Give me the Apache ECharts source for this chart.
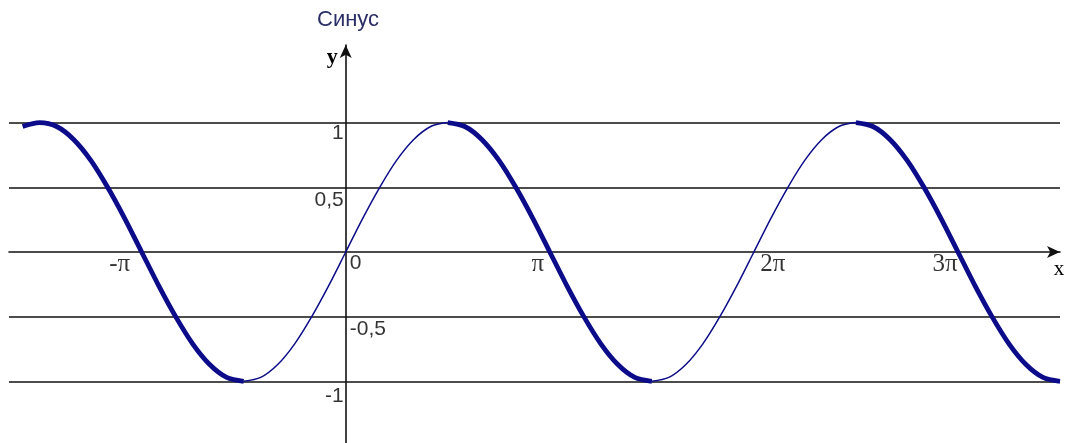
<!DOCTYPE html>
<html>
<head>
<meta charset="utf-8">
<title>Синус</title>
<script src="https://cdn.jsdelivr.net/npm/echarts@6/dist/echarts.min.js"></script>
<style>
  html, body { margin: 0; padding: 0; background: #ffffff; }
  #chart { width: 1072px; height: 443px; }
</style>
</head>
<body>
<div id="chart"></div>
<script>
// Angle in degrees (180 = π) and the sine value at each sample
const angleDeg = [
  -285, -270, -255, -240, -225, -210, -195, -180, -165, -150, -135, -120, -105, -90,
  -75, -60, -45, -30, -15, 0, 15, 30, 45, 60, 75, 90,
  105, 120, 135, 150, 165, 180, 195, 210, 225, 240, 255, 270,
  285, 300, 315, 330, 345, 360, 375, 390, 405, 420, 435, 450,
  465, 480, 495, 510, 525, 540, 555, 570, 585, 600, 615, 630
];
const sineVal = [
  0.97, 1, 0.97, 0.87, 0.71, 0.5, 0.26, 0, -0.26, -0.5, -0.71, -0.87, -0.97, -1,
  -0.97, -0.87, -0.71, -0.5, -0.26, 0, 0.26, 0.5, 0.71, 0.87, 0.97, 1,
  0.97, 0.87, 0.71, 0.5, 0.26, 0, -0.26, -0.5, -0.71, -0.87, -0.97, -1,
  -0.97, -0.87, -0.71, -0.5, -0.26, 0, 0.26, 0.5, 0.71, 0.87, 0.97, 1,
  0.97, 0.87, 0.71, 0.5, 0.26, 0, -0.26, -0.5, -0.71, -0.87, -0.97, -1
];

// Intervals where the function decreases (drawn bold) and increases (drawn thin)
const decreasingSpans = [[-285, -90], [90, 270], [450, 630]];
const increasingSpans = [[-90, 90], [270, 450]];

// Tick labels
const xTickValues = [-180, 180, 360, 540];
const xTickLabels = ['-π', 'π', '2π', '3π'];
const yTickValues = [1, 0.5, 0, -0.5, -1];
const yTickLabels = ['1', '0,5', '0', '-0,5', '-1'];
const levelLines = [1, 0.5, -0.5, -1];

const chartTitle = 'Синус';
const xName = 'x';
const yName = 'y';

// ---------------------------------------------------------------
const INK = '#000000';
const CURVE = '#0c0c8a';
const SERIF = '"Liberation Serif", "Times New Roman", serif';
const SANS = '"Liberation Sans", Arial, sans-serif';

function spanData(span) {
  const out = [];
  for (let i = 0; i < angleDeg.length; i++) {
    if (angleDeg[i] >= span[0] && angleDeg[i] <= span[1]) out.push([angleDeg[i], sineVal[i]]);
  }
  return out;
}

// label placement tweaks, in px
const xNudge = [-22, -12, 19, -13];
const yNudge = [11, 13, 11, 13, 15];
const yOnRight = [false, false, true, true, false];

const series = [];
decreasingSpans.forEach(span => {
  series.push({
    type: 'line', data: spanData(span), smooth: 0.3, showSymbol: false, silent: true,
    lineStyle: { color: CURVE, width: 4.8 }, z: 5
  });
});
increasingSpans.forEach(span => {
  series.push({
    type: 'line', data: spanData(span), smooth: 0.3, showSymbol: false, silent: true,
    lineStyle: { color: CURVE, width: 1.5 }, z: 5
  });
});
// horizontal level lines
series[0].markLine = {
  silent: true,
  symbol: ['none', 'none'],
  label: { show: false },
  lineStyle: { color: '#111111', width: 1.6, type: 'solid' },
  data: levelLines.map(v => ({ yAxis: v }))
};

// tick labels along the x axis (sitting on y = 0)
series.push({
  type: 'scatter',
  silent: true,
  symbolSize: 0,
  z: 6,
  data: xTickValues.map((v, i) => ({
    value: [v, 0],
    label: {
      show: true,
      position: 'inside',
      offset: [xNudge[i], 12],
      formatter: xTickLabels[i],
      fontFamily: SERIF, fontSize: 25, color: INK
    }
  }))
});
// tick labels along the y axis (sitting on x = 0)
series.push({
  type: 'scatter',
  silent: true,
  symbolSize: 0,
  z: 6,
  data: yTickValues.map((v, i) => ({
    value: [0, v],
    label: {
      show: true,
      position: yOnRight[i] ? 'right' : 'left',
      distance: yOnRight[i] ? 4 : 2,
      offset: [0, yNudge[i]],
      formatter: yTickLabels[i],
      fontFamily: SANS, fontSize: 21, color: INK
    }
  }))
});

const chart = echarts.init(document.getElementById('chart'), null, { renderer: 'canvas' });
chart.setOption({
  animation: false,
  backgroundColor: '#ffffff',
  title: {
    text: chartTitle,
    left: 312,
    top: 4,
    textStyle: { fontFamily: SANS, fontSize: 22, fontWeight: 'normal', color: '#2a2d66' }
  },
  grid: { left: 9, top: 45, width: 1051, height: 401, containLabel: false, outerBoundsMode: 'none' },
  xAxis: {
    type: 'value',
    min: -297,
    max: 630,
    name: xName,
    nameLocation: 'end',
    nameGap: -1,
    nameTextStyle: {
      fontFamily: SERIF, fontSize: 21, color: INK,
      align: 'center', verticalAlign: 'top', padding: [7, 0, 0, 0]
    },
    axisLine: {
      onZero: true,
      symbol: ['none', 'arrow'],
      symbolSize: [9, 13],
      lineStyle: { color: '#111111', width: 1.6 }
    },
    axisTick: { show: false },
    splitLine: { show: false },
    axisLabel: { show: false }
  },
  yAxis: {
    type: 'value',
    min: -1.5,
    max: 1.6,
    name: yName,
    nameLocation: 'end',
    nameGap: -12,
    nameTextStyle: {
      fontFamily: SERIF, fontSize: 22, fontWeight: 'bold', color: INK,
      align: 'right', verticalAlign: 'middle', padding: [0, 8, 0, 0]
    },
    axisLine: {
      onZero: true,
      symbol: ['none', 'arrow'],
      symbolSize: [9, 13],
      lineStyle: { color: '#111111', width: 1.6 }
    },
    axisTick: { show: false },
    splitLine: { show: false },
    axisLabel: { show: false }
  },
  series: series
});
</script>
</body>
</html>
